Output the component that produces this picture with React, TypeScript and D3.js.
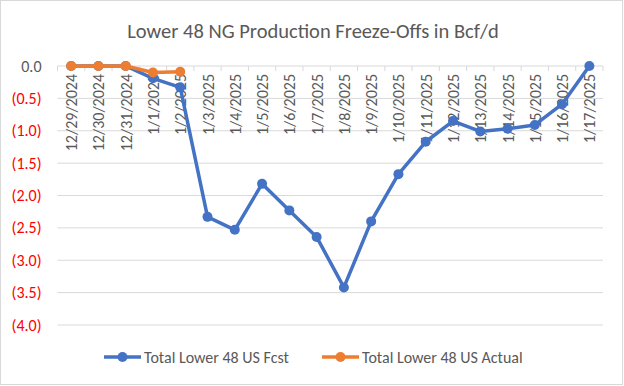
import React, { useEffect, useRef } from 'react';
import * as d3 from 'd3';

const dates = [
  '12/29/2024', '12/30/2024', '12/31/2024', '1/1/2025', '1/2/2025', '1/3/2025', '1/4/2025',
  '1/5/2025', '1/6/2025', '1/7/2025', '1/8/2025', '1/9/2025', '1/10/2025', '1/11/2025',
  '1/12/2025', '1/13/2025', '1/14/2025', '1/15/2025', '1/16/2025', '1/17/2025'
];

const fcst = [0, 0, 0, -0.19, -0.33, -2.33, -2.53, -1.82, -2.23, -2.64, -3.42, -2.4, -1.67, -1.17,
  -0.85, -1.01, -0.97, -0.91, -0.59, 0];

const actual = [0, 0, 0, -0.1, -0.09];

const yTicks = [0, -0.5, -1, -1.5, -2, -2.5, -3, -3.5, -4];

const W = 624;
const H = 386;
const FONT = 'Carlito, Calibri, "Open Sans", sans-serif';

const App: React.FC = () => {
  const svgRef = useRef<SVGSVGElement>(null);

  useEffect(() => {
    if (!svgRef.current) return;
    const svg = d3.select(svgRef.current);
    svg.selectAll('*').remove();

    const margin = { top: 66, right: 21, bottom: 61, left: 57.5 };
    const innerW = W - margin.left - margin.right;
    const innerH = H - margin.top - margin.bottom;

    // chart frame
    svg.append('rect')
      .attr('x', 0.5).attr('y', 0.5)
      .attr('width', W - 2).attr('height', H - 2)
      .attr('fill', '#fff')
      .attr('stroke', '#d9d9d9');

    svg.append('text')
      .attr('x', W / 2 + 1)
      .attr('y', 38)
      .attr('text-anchor', 'middle')
      .style('font-family', FONT)
      .style('font-size', '20.5px')
      .style('fill', '#595959')
      .text('Lower 48 NG Production Freeze-Offs in Bcf/d');

    const x = d3.scaleBand<string>().domain(dates).range([0, innerW]);
    const y = d3.scaleLinear().domain([-4, 0]).range([innerH, 0]);
    const cx = (i: number) => (x(dates[i]) as number) + x.bandwidth() / 2;

    const g = svg.append('g')
      .attr('transform', `translate(${margin.left},${margin.top})`);

    // gridlines
    g.append('g')
      .selectAll('line')
      .data(yTicks)
      .enter().append('line')
      .attr('x1', 0).attr('x2', innerW)
      .attr('y1', d => y(d)).attr('y2', d => y(d))
      .attr('stroke', '#d9d9d9')
      .attr('stroke-width', 1);

    // y labels
    g.append('g')
      .selectAll('text')
      .data(yTicks)
      .enter().append('text')
      .attr('x', -16)
      .attr('y', d => y(d))
      .attr('dy', '0.35em')
      .attr('text-anchor', 'end')
      .style('font-family', FONT)
      .style('font-size', '16px')
      .style('fill', d => (d < 0 ? '#ff0000' : '#595959'))
      .text(d => (d < 0 ? `(${Math.abs(d).toFixed(1)})` : d.toFixed(1)));

    // category tick marks on the zero line
    const bounds = dates.map(d => x(d) as number).concat([innerW]);
    g.append('g')
      .selectAll('line')
      .data(bounds)
      .enter().append('line')
      .attr('x1', d => d).attr('x2', d => d)
      .attr('y1', y(0)).attr('y2', y(0) + 5)
      .attr('stroke', '#d9d9d9');

    // x labels, rotated
    g.append('g')
      .selectAll('text')
      .data(dates)
      .enter().append('text')
      .attr('transform', (d, i) => `translate(${cx(i) + 6},${y(0) + 8}) rotate(-90)`)
      .attr('text-anchor', 'end')
      .style('font-family', FONT)
      .style('font-size', '16px')
      .style('fill', '#595959')
      .text(d => d);

    const line = d3.line<number>()
      .x((d, i) => cx(i))
      .y(d => y(d));

    const series = [
      { data: fcst, color: '#4472c4' },
      { data: actual, color: '#ed7d31' }
    ];

    series.forEach(s => {
      g.append('path')
        .datum(s.data)
        .attr('fill', 'none')
        .attr('stroke', s.color)
        .attr('stroke-width', 3.5)
        .attr('stroke-linejoin', 'round')
        .attr('d', line);
      g.append('g')
        .selectAll('circle')
        .data(s.data)
        .enter().append('circle')
        .attr('cx', (d, i) => cx(i))
        .attr('cy', d => y(d))
        .attr('r', 5)
        .attr('fill', s.color);
    });

    // legend
    const legendItems = [
      { label: 'Total Lower 48 US Fcst', color: '#4472c4', x: 104 },
      { label: 'Total Lower 48 US Actual', color: '#ed7d31', x: 322 }
    ];
    const lg = svg.append('g').attr('transform', 'translate(0,357)');
    legendItems.forEach(it => {
      lg.append('line')
        .attr('x1', it.x).attr('x2', it.x + 37)
        .attr('y1', 0).attr('y2', 0)
        .attr('stroke', it.color)
        .attr('stroke-width', 3.5);
      lg.append('circle')
        .attr('cx', it.x + 18.5).attr('cy', 0)
        .attr('r', 5)
        .attr('fill', it.color);
      lg.append('text')
        .attr('x', it.x + 40)
        .attr('y', 0)
        .attr('dy', '0.35em')
        .style('font-family', FONT)
        .style('font-size', '16px')
        .style('fill', '#595959')
        .text(it.label);
    });
  }, []);

  return (
    <svg
      ref={svgRef}
      width={W}
      height={H}
      style={{ position: 'absolute', left: 0, top: 0, background: '#fff' }}
    />
  );
};

export default App;
